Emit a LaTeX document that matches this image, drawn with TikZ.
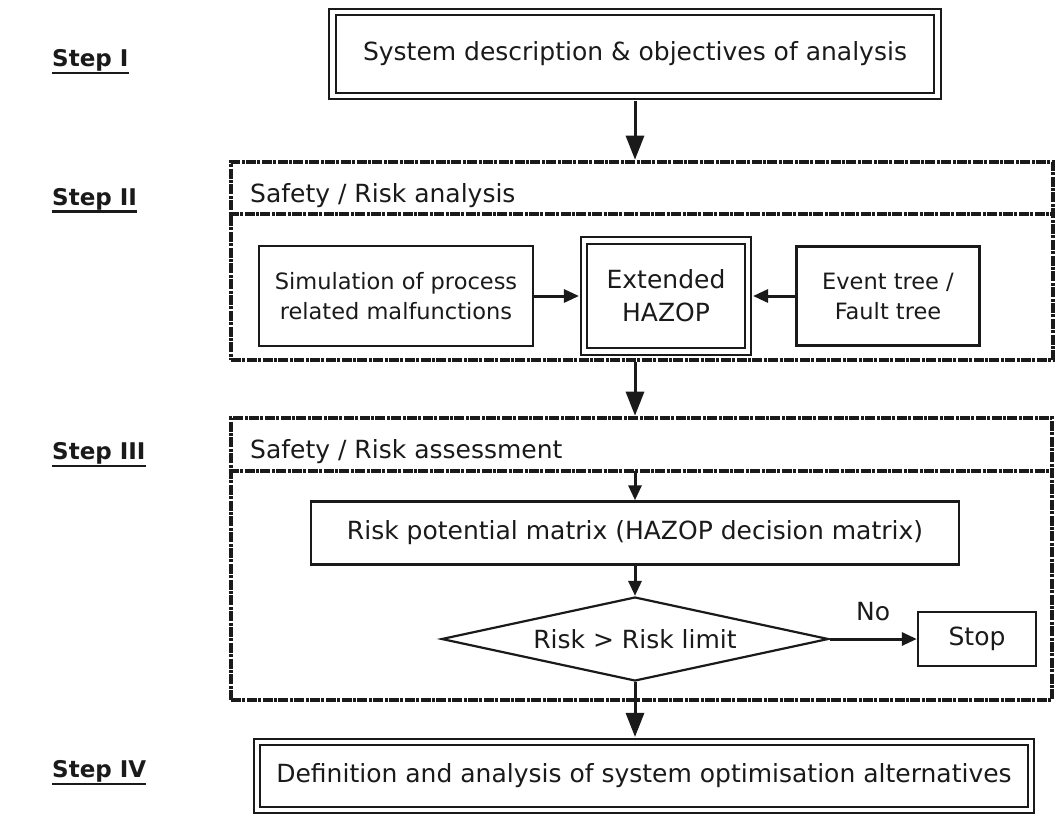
\documentclass[tikz,border=0pt]{standalone}
\usepackage{fontspec}
\setmainfont{DejaVu Sans}
\usepackage{tikz}
\usepackage{xcolor}
\usetikzlibrary{arrows.meta,shapes.geometric}

\definecolor{ink}{HTML}{1A1A1A}
\newcommand{\boxfont}{\fontsize{25}{33}\selectfont}
\newcommand{\sidefont}{\fontsize{22.5}{30}\selectfont}
\newcommand{\stepfont}{\fontsize{23}{27}\selectfont\bfseries}

\tikzset{
  plainbox/.style={draw=ink, line width=2.4pt, text=ink, font=\boxfont, inner sep=0pt},
  dblbox/.style={plainbox, double=white, double distance=4.5pt, line width=2.1pt},
  decision/.style={diamond, aspect=4.6, draw=ink, line width=2.2pt, text=ink, font=\boxfont,
    inner sep=0pt, minimum width=387pt, minimum height=84pt},
  framebox/.style={draw=ink, line width=4.6pt, dash pattern=on 10pt off 1.4pt on 3pt off 1.4pt},
  framesep/.style={draw=ink, line width=3.8pt, dash pattern=on 10pt off 1.4pt on 3pt off 1.4pt},
  steplabel/.style={anchor=base west, inner sep=0pt, text=ink, font=\stepfont},
  headtext/.style={anchor=base west, inner sep=0pt, text=ink, font=\boxfont},
  bigarrow/.style={draw=ink, line width=3pt, -{Triangle[length=24pt,width=18pt]}},
  midarrow/.style={draw=ink, line width=3pt, -{Triangle[length=15pt,width=13pt]}},
  ulrule/.style={draw=ink, line width=2.8pt},
}

\begin{document}
\begin{tikzpicture}[x=1pt,y=-1pt]
    \path[use as bounding box, fill=white] (0,0) rectangle (1061,815);

    % step labels
    \node[steplabel] (stepI) at (52,66.5) {Step I};
    \node[steplabel] (stepII) at (52,205) {Step II};
    \node[steplabel] (stepIII) at (52,459.5) {Step III};
    \node[steplabel] (stepIV) at (52,777.5) {Step IV};
    \foreach \s in {stepI,stepII,stepIII,stepIV}
        \draw[ulrule] ([yshift=-1.5pt]\s.south west) -- ([yshift=-1.5pt]\s.south east);

    % step I
    \node[dblbox, minimum width=605pt, minimum height=84pt] (sysdesc) at (635,54)
        {System description \& objectives of analysis};

    % step II
    \node[framebox, minimum width=822pt, minimum height=198pt] (frameII) at (642,261) {};
    \path (frameII.north west) ++(0,54) coordinate (sepII);
    \draw[framesep] (sepII) -- (sepII -| frameII.east);
    \node[headtext] (headII) at (250,202) {Safety / Risk analysis};
    \node[plainbox, font=\sidefont, align=center, minimum width=274pt, minimum height=100pt] (simul)
        at (396,296) {Simulation of process\\related malfunctions};
    \node[dblbox, align=center, minimum width=164pt, minimum height=111pt] (hazop)
        at (666,296) {Extended\\HAZOP};
    \node[plainbox, font=\sidefont, align=center, minimum width=183pt, minimum height=99pt] (evtree)
        at (888,296) {Event tree /\\Fault tree};
    \draw[midarrow, shorten >=4pt] (simul) -- (hazop);
    \draw[midarrow, shorten >=4pt] (evtree) -- (hazop);

    % step III
    \node[framebox, minimum width=821pt, minimum height=282pt] (frameIII) at (641.5,559) {};
    \path (frameIII.north west) ++(0,55) coordinate (sepIII);
    \draw[framesep] (sepIII) -- (sepIII -| frameIII.east);
    \node[headtext] (headIII) at (250,458) {Safety / Risk assessment};
    \node[plainbox, minimum width=648pt, minimum height=63pt] (riskmat) at (635,533)
        {Risk potential matrix (HAZOP decision matrix)};
    \node[decision] (decide) at (635,639) {Risk > Risk limit};
    \node[plainbox, minimum width=118pt, minimum height=54pt] (stop) at (977,639) {Stop};
    \draw[midarrow] (sepIII -| riskmat.north) -- (riskmat.north);
    \draw[midarrow] (riskmat) -- (decide);
    \draw[midarrow] (decide) -- node[above=17pt, text=ink, font=\boxfont, inner sep=0pt] (nolbl) {No} (stop);

    % step IV
    \node[dblbox, minimum width=774pt, minimum height=68pt] (optim) at (644,776)
        {Definition and analysis of system optimisation alternatives};

    % between the steps
    \draw[bigarrow, shorten <=4pt] (sysdesc.south) -- (sysdesc.south |- frameII.north);
    \draw[bigarrow] (frameII.south -| sysdesc.south) -- (frameIII.north -| sysdesc.south);
    \draw[bigarrow, shorten >=4pt] (decide.south) -- (decide.south |- optim.north);
\end{tikzpicture}
\end{document}
